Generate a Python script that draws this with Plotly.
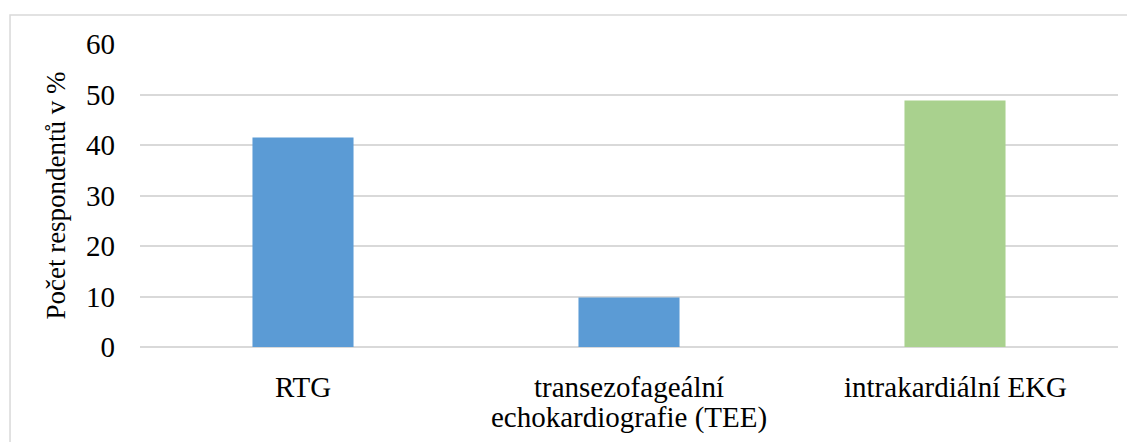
import plotly.graph_objects as go

# data (percent of respondents)
kategorie = ["RTG", "transezofageální<br>echokardiografie (TEE)", "intrakardiální EKG"]
procenta = [41.5, 9.8, 48.8]
barvy = ["#5B9BD5", "#5B9BD5", "#A9D18E"]
osa_y_ticky = [0, 10, 20, 30, 40, 50, 60]

pismo = "Liberation Serif"

fig = go.Figure()

fig.add_trace(
    go.Bar(
        x=kategorie,
        y=procenta,
        marker=dict(color=barvy, line=dict(width=0)),
        width=0.31,
        hoverinfo="x+y"
    )
)

# x popisky jako anotace, aby radkovani odpovidalo originalu
for kat in kategorie:
    for i, radek in enumerate(kat.split("<br>")):
        fig.add_annotation(
            x=kat, y=0, xref="x", yref="y",
            text=radek, showarrow=False,
            yanchor="top", yshift=-22 - i * 30,
            font=dict(family=pismo, size=29, color="#000000")
        )

# ramecek kolem grafu
fig.add_shape(
    type="rect", xref="paper", yref="paper",
    x0=-0.1329, x1=1.2, y0=-0.6, y1=1.0957,
    line=dict(color="#d9d9d9", width=1.5),
    fillcolor="rgba(0,0,0,0)", layer="below"
)

fig.update_layout(
    width=1135,
    height=442,
    margin=dict(l=132, r=25, t=36, b=103),
    paper_bgcolor="white",
    plot_bgcolor="white",
    showlegend=False,
    font=dict(family=pismo, size=29, color="#000000"),
    xaxis=dict(
        showticklabels=False,
        showgrid=False,
        zeroline=False,
        showline=False,
        ticks=""
    ),
    yaxis=dict(
        range=[0, 60],
        tickvals=osa_y_ticky,
        showgrid=True,
        gridcolor="#d9d9d9",
        gridwidth=2,
        zeroline=True,
        zerolinecolor="#d9d9d9",
        zerolinewidth=2,
        showline=False,
        ticks="",
        ticklabelstandoff=24,
        tickfont=dict(family=pismo, size=29),
        title=dict(
            text="Počet respondentů v %",
            font=dict(family=pismo, size=27),
            standoff=12
        )
    )
)

fig.write_html("out.html")
